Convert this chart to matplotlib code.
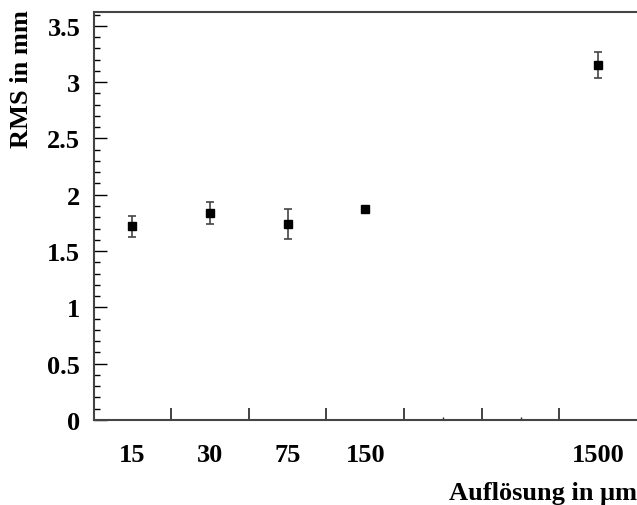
import matplotlib
matplotlib.use("Agg")
import matplotlib.pyplot as plt
from matplotlib.ticker import MultipleLocator, FixedLocator

# Resolution settings and measured RMS
resolutions = ["15", "30", "75", "150", "1500"]
bin_index = [0, 1, 2, 3, 6]
rms = [1.72, 1.84, 1.74, 1.87, 3.15]
rms_err = [0.095, 0.10, 0.13, 0.02, 0.115]

plt.rcParams["font.family"] = ["Liberation Serif", "DejaVu Serif"]
plt.rcParams["font.weight"] = "bold"

fig = plt.figure(figsize=(6.37, 5.06), dpi=100)
ax = fig.add_axes([93.5 / 637, 85 / 506, 1 - 93.5 / 637, (421 - 13.3) / 506])

centers = [i + 0.5 for i in bin_index]
ax.errorbar(centers, rms, yerr=rms_err, fmt="s", color="black", markersize=6,
            ecolor="#444444", elinewidth=1.2, capsize=3.2, capthick=1.2)

ax.set_xlim(0, 7)
ax.set_ylim(0, 3.62)

# x axis: bin edges as major ticks, labels under bin centres
ax.xaxis.set_major_locator(FixedLocator([1, 2, 3, 4, 5, 6]))
ax.xaxis.set_minor_locator(FixedLocator([4.5, 5.5]))
ax.set_xticklabels([])
ax.tick_params(axis="x", which="major", direction="in", length=9, width=1.2, color="#222222")
ax.tick_params(axis="x", which="minor", direction="in", length=2, width=1.0, color="#222222")
for c, lab in zip(centers, resolutions):
    ax.text(c, -0.0835, lab, transform=ax.get_xaxis_transform(), ha="center", va="center",
            fontsize=19, fontweight="bold")

ax.yaxis.set_major_locator(MultipleLocator(0.5))
ax.yaxis.set_minor_locator(MultipleLocator(0.1))
ax.yaxis.set_major_formatter(plt.FuncFormatter(lambda v, p: f"{v:g}"))
ax.tick_params(axis="y", which="major", direction="in", length=9.5, width=1.0,
               labelsize=19, pad=9.5)
ax.tick_params(axis="y", which="minor", direction="in", length=4.5, width=1.0)
for lab in ax.get_yticklabels():
    lab.set_fontweight("bold")

for side in ("left", "bottom", "top"):
    ax.spines[side].set_color("#444444")
    ax.spines[side].set_linewidth(1.5)
ax.spines["right"].set_visible(False)

fig.text(22 / 637, 1 - 10 / 506, "RMS in mm", rotation=90, ha="center", va="top",
         fontsize=19, fontweight="bold")
fig.text(1.0, 1 - 494 / 506, "Auflösung in μm", ha="right", va="center",
         fontsize=19, fontweight="bold")

fig.savefig("out.png", dpi=100)
